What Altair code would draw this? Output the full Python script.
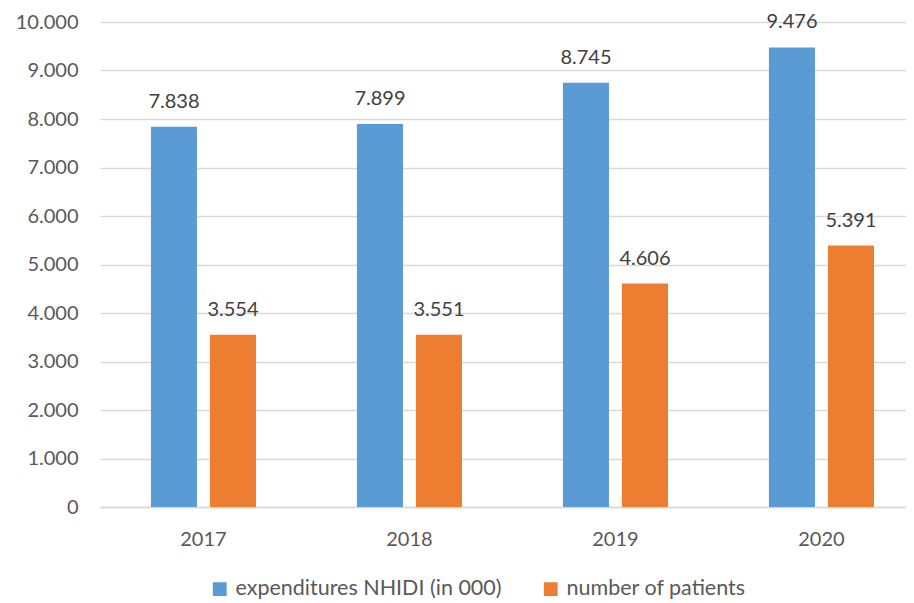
import altair as alt
import pandas as pd

years = ["2017", "2018", "2019", "2020"]
expenditures = [7838, 7899, 8745, 9476]
patients = [3554, 3551, 4606, 5391]
series_names = ["expenditures NHIDI (in 000)", "number of patients"]
colors = ["#5B9BD5", "#ED7D31"]

rows = []
for i, y in enumerate(years):
    rows.append({"year": y, "series": series_names[0], "value": expenditures[i]})
    rows.append({"year": y, "series": series_names[1], "value": patients[i]})
df = pd.DataFrame(rows)

FONT = "Lato"
FS = 20

x = alt.X("year:N", title=None,
          scale=alt.Scale(paddingInner=0.49, paddingOuter=0.2013, align=0.614),
          axis=alt.Axis(labelAngle=0, labelFontSize=FS, labelColor="#595959", labelFont=FONT,
                        labelPadding=22, ticks=False, domainColor="#D9D9D9", domainWidth=1.5, grid=False))
xo = alt.XOffset("series:N", scale=alt.Scale(paddingInner=0.22, paddingOuter=0), sort=series_names)
y = alt.Y("value:Q", title=None,
          scale=alt.Scale(domain=[0, 10000], nice=False),
          axis=alt.Axis(values=list(range(0, 10001, 1000)), labelFontSize=FS, labelColor="#595959",
                        labelFont=FONT, labelPadding=22, ticks=False, domain=False,
                        gridColor="#D9D9D9", gridWidth=1.5,
                        labelExpr="replace(format(datum.value, ','), ',', '.')"))
color = alt.Color("series:N", sort=series_names,
                  scale=alt.Scale(domain=series_names, range=colors),
                  legend=alt.Legend(title=None, orient="none", legendX=109, legendY=556,
                                    direction="horizontal", symbolType="square", symbolSize=190,
                                    symbolStrokeWidth=0, labelFontSize=21.5, labelColor="#595959",
                                    labelFont=FONT, columnPadding=38, labelOffset=5,
                                    labelLimit=500))

base = alt.Chart(df).encode(x=x, xOffset=xo, y=y)
bars = base.mark_bar().encode(color=color)
labels = base.transform_calculate(
    lab="replace(format(datum.value, ','), ',', '.')"
).mark_text(baseline="bottom", dy=-15, fontSize=FS, color="#404040", font=FONT).encode(
    text="lab:N")

chart = (bars + labels).properties(
    width=806, height=485,
    autosize=alt.AutoSizeParams(type="none"),
    padding={"left": 92, "top": 14, "right": 0, "bottom": 95},
).configure_view(stroke=None)

chart.save("out.html", embed_options={"renderer": "svg", "actions": False})
